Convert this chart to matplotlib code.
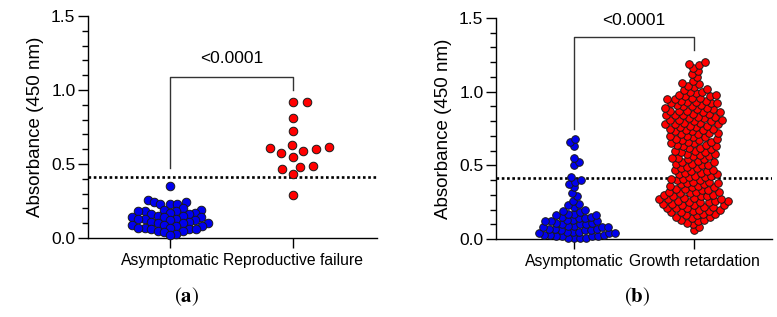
"""
Absorbance (450 nm) scatter/swarm plots, two panels.
(a) Asymptomatic vs Reproductive failure
(b) Asymptomatic vs Growth retardation
"""
import numpy as np
import matplotlib
matplotlib.use("Agg")
import matplotlib.pyplot as plt

plt.rcParams["font.family"] = ["Liberation Sans", "DejaVu Sans"]
plt.rcParams["mathtext.fontset"] = "stix"

# ── data ────────────────────────────────────────────────
A_GROUPS = ["Asymptomatic", "Reproductive failure"]
a_asym = [0.35, 0.26, 0.24, 0.24, 0.23, 0.23, 0.23, 0.20, 0.19, 0.19,
          0.18, 0.18, 0.18, 0.17, 0.17, 0.16, 0.16, 0.15, 0.15, 0.14,
          0.14, 0.14, 0.13, 0.13, 0.13, 0.12, 0.12, 0.11, 0.11, 0.10,
          0.10, 0.10, 0.09, 0.09, 0.08, 0.08, 0.07, 0.07, 0.07, 0.06,
          0.06, 0.06, 0.05, 0.05, 0.04, 0.03, 0.02]
a_repro = [0.92, 0.92, 0.81, 0.725, 0.63, 0.615, 0.61, 0.60, 0.59, 0.575,
           0.547, 0.486, 0.482, 0.464, 0.43, 0.288]

B_GROUPS = ["Asymptomatic", "Growth retardation"]
# panel (b) is too dense to read point by point: number of points per 0.01 band
b_asym_level = np.round(np.arange(0.01, 0.685, 0.01), 2)
b_asym_count = [4, 4, 3, 3, 3, 3, 3, 3, 2, 3,
                2, 3, 2, 2, 2, 2, 2, 1, 1, 1,
                0, 1, 1, 1, 0, 1, 0, 0, 1, 0,
                1, 0, 0, 0, 1, 0, 1, 0, 1, 1,
                0, 1, 0, 0, 0, 0, 0, 0, 0, 1,
                0, 1, 0, 0, 1, 0, 0, 0, 0, 0,
                0, 0, 1, 0, 0, 1, 0, 1]
b_growth_level = np.round(np.arange(0.06, 1.205, 0.01), 2)
b_growth_count = [1, 0, 1, 0, 1, 1, 1, 2, 1, 2,    # 0.06-0.15
                  2, 2, 2, 2, 2, 3, 2, 3, 2, 3,    # 0.16-0.25
                  3, 3, 2, 3, 2, 2, 3, 2, 2, 2,    # 0.26-0.35
                  2, 2, 2, 2, 2, 2, 2, 2, 2, 2,    # 0.36-0.45
                  2, 2, 2, 1, 2, 2, 2, 1, 2, 2,    # 0.46-0.55
                  2, 1, 2, 2, 2, 1, 2, 2, 2, 2,    # 0.56-0.65
                  2, 2, 2, 2, 2, 2, 2, 2, 2, 2,    # 0.66-0.75
                  2, 2, 3, 2, 2, 3, 2, 2, 3, 2,    # 0.76-0.85
                  2, 3, 2, 2, 2, 2, 3, 2, 2, 2,    # 0.86-0.95
                  2, 2, 2, 1, 2, 1, 1, 1, 1, 1,    # 0.96-1.05
                  1, 1, 0, 0, 1, 0, 1, 0, 1, 0,    # 1.06-1.15
                  1, 0, 1, 1, 1]                   # 1.16-1.20

CUTOFF = 0.415
P_TEXT = "<0.0001"

BLUE = "#0000ee"
RED = "#ff0000"


def swarm_offsets(vals, sx, sy, px_x, px_y):
    """simple beeswarm in pixel space (ellipse collision sx by sy px),
    returns x offsets in data units, in the order of vals"""
    vals = np.asarray(vals, dtype=float)
    order = np.argsort(vals, kind="stable")
    placed = []
    out = np.zeros(len(vals))
    for n, i in enumerate(order):
        y = vals[i] * px_y
        near = [(px, py) for px, py in placed if abs(py - y) < sy]
        cands = [0.0]
        for px, py in near:
            d = (py - y) / sy
            dx = sx * np.sqrt(max(0.0, 1 - d * d))
            cands += [px + dx, px - dx] if n % 2 else [px - dx, px + dx]
        cands.sort(key=abs)
        for c in cands:
            if all(((c - px) / sx) ** 2 + ((y - py) / sy) ** 2 >= 0.999
                   for px, py in near):
                break
        placed.append((c, y))
        out[i] = c / px_x
    return out


def panel(ax, groups, series, colors, sizes, spacing, bracket, ptext_y, xlim):
    ax.set_xlim(*xlim)
    ax.set_ylim(0, 1.5)
    bb = ax.get_window_extent()
    px_x = bb.width / (xlim[1] - xlim[0])
    px_y = bb.height / 1.5

    ax.axhline(CUTOFF, color="black", lw=1.9, ls=(0, (1.0, 1.0)), zorder=1)

    for k, (vals, col, s, (sx, sy)) in enumerate(zip(series, colors, sizes, spacing)):
        off = swarm_offsets(vals, sx, sy, px_x, px_y)
        ax.scatter(k + off, vals, s=s, c=col, edgecolors="#1a1a1a",
                   linewidths=0.7, zorder=3, clip_on=False)

    top, left_end, right_end = bracket
    ax.plot([0, 0, 1, 1], [left_end, top, top, right_end],
            color="#333333", lw=1.0, zorder=2)
    ax.text(0.5, ptext_y, P_TEXT, ha="center", va="center", fontsize=12.5)

    ax.set_xticks([0, 1])
    ax.set_xticklabels(groups, fontsize=11.3)
    ax.set_yticks([0, 0.5, 1.0, 1.5])
    ax.set_yticks(np.arange(0, 1.51, 0.1), minor=True)
    ax.yaxis.set_major_formatter(matplotlib.ticker.FormatStrFormatter("%.1f"))
    ax.tick_params(axis="y", which="major", length=7, width=1, labelsize=12.5, pad=2)
    ax.tick_params(axis="y", which="minor", length=4, width=1)
    ax.tick_params(axis="x", length=7, width=1, pad=4)
    ax.set_ylabel("Absorbance (450 nm)", fontsize=13.5, labelpad=5)
    for side in ("top", "right"):
        ax.spines[side].set_visible(False)
    for side in ("left", "bottom"):
        ax.spines[side].set_linewidth(1.0)


def main():
    fig = plt.figure(figsize=(7.77, 3.17), dpi=100)
    ax_a = fig.add_axes([88 / 777, 79 / 317, 289 / 777, 222 / 317])
    ax_b = fig.add_axes([496 / 777, 78 / 317, 276 / 777, 221 / 317])

    panel(ax_a, A_GROUPS, [a_asym, a_repro], [BLUE, RED], [38, 38],
          [(6.6, 7.2), (13.5, 9.0)], (1.09, 0.47, 1.0), 1.21, (-0.667, 1.683))

    b_asym = np.repeat(b_asym_level, b_asym_count)
    b_growth = np.repeat(b_growth_level, b_growth_count)
    panel(ax_b, B_GROUPS, [b_asym, b_growth], [BLUE, RED], [30, 30],
          [(6.0, 6.0), (6.3, 6.0)], (1.37, 0.75, 1.28), 1.485, (-0.65, 1.65))

    fig.text(187 / 777, 1 - 297 / 317, r"$(\mathbf{a})$", ha="center", va="center", fontsize=15)
    fig.text(637 / 777, 1 - 297 / 317, r"$(\mathbf{b})$", ha="center", va="center", fontsize=15)

    fig.savefig("out.png", dpi=100)


if __name__ == "__main__":
    main()
